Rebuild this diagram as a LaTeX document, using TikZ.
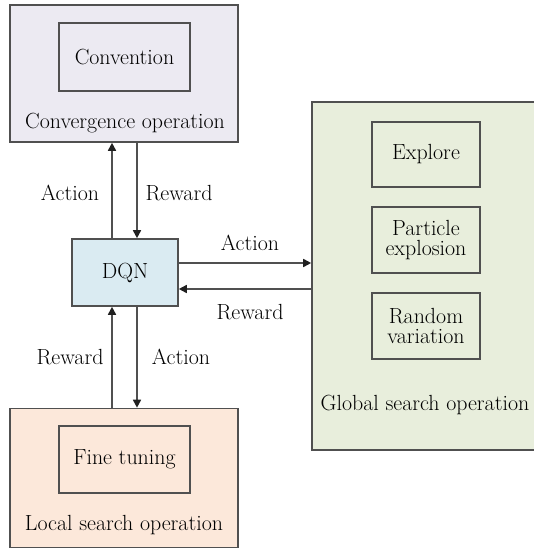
\documentclass[tikz,border=0pt]{standalone}
\usepackage{fontspec}
\usetikzlibrary{arrows.meta}

\definecolor{convfill}{HTML}{ECEAF2}
\definecolor{dqnfill}{HTML}{DAEBF2}
\definecolor{localfill}{HTML}{FCE8DA}
\definecolor{globalfill}{HTML}{E8EEDC}
\definecolor{edge}{HTML}{505050}
\definecolor{tip}{HTML}{202020}

\tikzset{
  panel/.style={draw=edge, line width=1.6pt, rectangle, inner sep=0pt},
  inbox/.style={draw=edge, line width=1.6pt, rectangle, inner sep=0pt, align=center},
  lbl/.style={inner sep=0pt, align=center},
  flow/.style={draw=edge, line width=1.6pt, -{Triangle[length=8bp,width=8bp,color=tip]}}
}

\begin{document}
\begin{tikzpicture}[x=1bp, y=-1bp, every node/.style={text=black, font=\rmfamily\fontsize{22}{22}\selectfont}]
\useasboundingbox (0,0) rectangle (534,549);
\clip (0,0) rectangle (534,549);

% convergence block
\node[panel, fill=convfill, minimum width=228bp, minimum height=137bp] (conv) at (124,73.5) {};
\node[inbox, minimum width=131bp, minimum height=68bp] (convention) at (124.5,57) {Convention};
\node[lbl] (convlbl) at (125,123) {Convergence operation};

% DQN agent
\node[panel, fill=dqnfill, minimum width=106bp, minimum height=67bp] (dqn) at (125,272.5) {DQN};

% local search block
\node[panel, fill=localfill, minimum width=228bp, minimum height=139bp] (local) at (124,478) {};
\node[inbox, minimum width=131bp, minimum height=67bp] (fine) at (124.5,459.5) {Fine tuning};
\node[lbl] (locallbl) at (124,525) {Local search operation};

% global search block (runs past the right edge)
\node[panel, fill=globalfill, minimum width=240bp, minimum height=348bp] (global) at (432,276) {};
\node[inbox, minimum width=108bp, minimum height=65bp] (explore) at (426,154.5) {Explore};
\node[inbox, minimum width=108bp, minimum height=66bp] (particle) at (426,240) {Particle\\[-1bp]explosion};
\node[inbox, minimum width=108bp, minimum height=66bp] (random) at (426,326) {Random\\[-1bp]variation};
\node[lbl] (globallbl) at (425,405) {Global search operation};

% connectors between DQN and the convergence block
\coordinate (ua) at (112,0);
\coordinate (ub) at (137,0);
\draw[flow] (dqn.north -| ua) -- (conv.south -| ua);
\draw[flow] (conv.south -| ub) -- (dqn.north -| ub);
\node[lbl] (la1) at (70,193) {Action};
\node[lbl] (lr1) at (179,193) {Reward};

% connectors between DQN and the local search block
\draw[flow] (local.north -| ua) -- (dqn.south -| ua);
\draw[flow] (dqn.south -| ub) -- (local.north -| ub);
\node[lbl] (lr2) at (70,357) {Reward};
\node[lbl] (la2) at (181,357) {Action};

% connectors between DQN and the global search block
\coordinate (ha) at (0,263);
\coordinate (hb) at (0,289);
\draw[flow] (dqn.east |- ha) -- (global.west |- ha);
\draw[flow] (global.west |- hb) -- (dqn.east |- hb);
\node[lbl] (la3) at (250,243) {Action};
\node[lbl] (lr3) at (250,312) {Reward};
\end{tikzpicture}
\end{document}
